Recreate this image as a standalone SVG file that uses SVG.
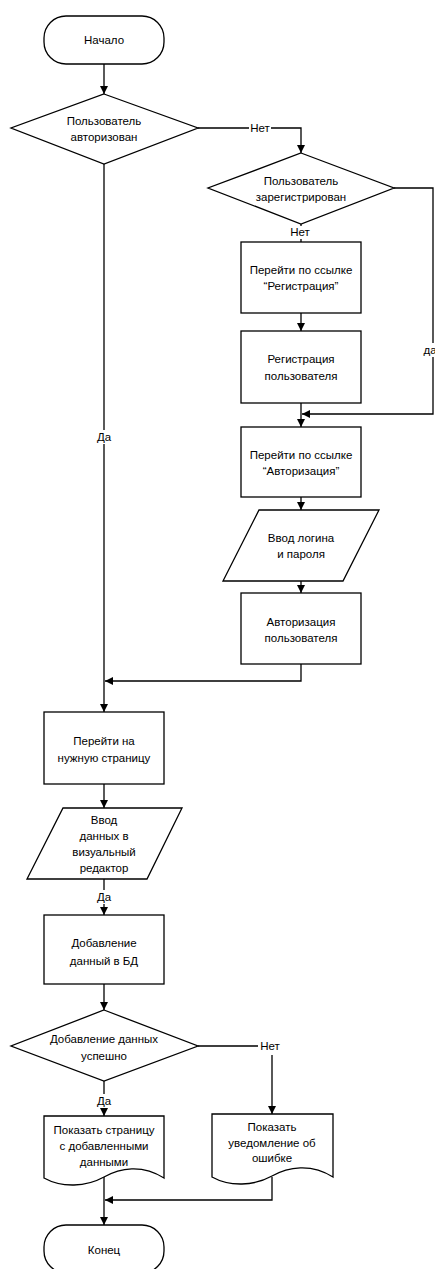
<svg xmlns="http://www.w3.org/2000/svg" width="435" height="1269" viewBox="0 0 435 1269">
  <style>
    .shape { fill: #ffffff; stroke: #000000; stroke-width: 1.3; }
    .line { fill: none; stroke: #000000; stroke-width: 1.3; }
    .txt { font-family: "Liberation Sans", Arial, sans-serif; font-size: 11.5px; fill: #000000; text-anchor: middle; dominant-baseline: central; }
    .lbl { fill: #ffffff; stroke: none; }
  </style>
  <defs>
    <marker id="arrow" viewBox="0 0 10 10" refX="10" refY="5" markerWidth="8" markerHeight="8" markerUnits="userSpaceOnUse" orient="auto">
      <path d="M0,0 L10,5 L0,10 Z" fill="#000000"/>
    </marker>
  </defs>

  <rect width="435" height="1269" fill="#ffffff"/>

  <!-- connectors -->
  <g id="connectors">
    <path class="line" d="M104,64 V94" marker-end="url(#arrow)"/>
    <path class="line" d="M198,128 H301 V153" marker-end="url(#arrow)"/>
    <path class="line" d="M394,188 H433 V414 H302" marker-end="url(#arrow)"/>
    <path class="line" d="M301,224 V242"/>
    <path class="line" d="M301,313 V331" marker-end="url(#arrow)"/>
    <path class="line" d="M301,403 V427" marker-end="url(#arrow)"/>
    <path class="line" d="M301,497 V510" marker-end="url(#arrow)"/>
    <path class="line" d="M301,581 V593" marker-end="url(#arrow)"/>
    <path class="line" d="M301,664 V681 H105" marker-end="url(#arrow)"/>
    <path class="line" d="M104,164 V712" marker-end="url(#arrow)"/>
    <path class="line" d="M104,784 V808" marker-end="url(#arrow)"/>
    <path class="line" d="M104,879 V915" marker-end="url(#arrow)"/>
    <path class="line" d="M104,984 V1010" marker-end="url(#arrow)"/>
    <path class="line" d="M198,1046 H272 V1114" marker-end="url(#arrow)"/>
    <path class="line" d="M104,1081 V1116" marker-end="url(#arrow)"/>
    <path class="line" d="M272,1177 V1200 H105" marker-end="url(#arrow)"/>
    <path class="line" d="M104,1177 V1225" marker-end="url(#arrow)"/>

    <!-- connector labels -->
    <rect class="lbl" x="249" y="121" width="22" height="14"/>
    <text class="txt" x="260" y="128">Нет</text>
    <rect class="lbl" x="289" y="226" width="22" height="13"/>
    <text class="txt" x="300" y="232">Нет</text>
    <rect class="lbl" x="424" y="343" width="12" height="14"/>
    <text class="txt" x="430" y="350">да</text>
    <rect class="lbl" x="95" y="430" width="18" height="14"/>
    <text class="txt" x="104" y="437">Да</text>
    <rect class="lbl" x="95" y="890" width="18" height="14"/>
    <text class="txt" x="104" y="897">Да</text>
    <rect class="lbl" x="258" y="1039" width="24" height="16"/>
    <text class="txt" x="270" y="1046">Нет</text>
    <rect class="lbl" x="95" y="1094" width="18" height="14"/>
    <text class="txt" x="104" y="1101">Да</text>
  </g>

  <g id="start">
    <rect class="shape" x="44" y="16" width="120" height="48" rx="22" ry="22"/>
    <text class="txt" x="104" y="40">Начало</text>
  </g>

  <g id="is-authorized">
    <polygon class="shape" points="104,94 198,128 104,164 11,128"/>
    <text class="txt" x="104" y="121">Пользователь</text>
    <text class="txt" x="104" y="137">авторизован</text>
  </g>

  <g id="is-registered">
    <polygon class="shape" points="301,153 394,188 301,224 208,188"/>
    <text class="txt" x="301" y="181">Пользователь</text>
    <text class="txt" x="301" y="197">зарегистрирован</text>
  </g>

  <g id="goto-registration">
    <rect class="shape" x="241" y="242" width="120" height="71"/>
    <text class="txt" x="301" y="270">Перейти по ссылке</text>
    <text class="txt" x="301" y="286">“Регистрация”</text>
  </g>

  <g id="register-user">
    <rect class="shape" x="241" y="331" width="120" height="72"/>
    <text class="txt" x="301" y="359">Регистрация</text>
    <text class="txt" x="301" y="376">пользователя</text>
  </g>

  <g id="goto-authorization">
    <rect class="shape" x="241" y="427" width="120" height="70"/>
    <text class="txt" x="301" y="455">Перейти по ссылке</text>
    <text class="txt" x="301" y="471">“Авторизация”</text>
  </g>

  <g id="enter-credentials">
    <polygon class="shape" points="259,510 379,510 343,581 223,581"/>
    <text class="txt" x="301" y="538">Ввод логина</text>
    <text class="txt" x="301" y="554">и пароля</text>
  </g>

  <g id="authorize-user">
    <rect class="shape" x="241" y="593" width="120" height="71"/>
    <text class="txt" x="301" y="622">Авторизация</text>
    <text class="txt" x="301" y="638">пользователя</text>
  </g>

  <g id="goto-page">
    <rect class="shape" x="44" y="712" width="120" height="72"/>
    <text class="txt" x="104" y="741">Перейти на</text>
    <text class="txt" x="104" y="758">нужную страницу</text>
  </g>

  <g id="enter-data">
    <polygon class="shape" points="63,808 182,808 147,879 27,879"/>
    <text class="txt" x="104" y="820">Ввод</text>
    <text class="txt" x="104" y="836">данных в</text>
    <text class="txt" x="104" y="852">визуальный</text>
    <text class="txt" x="104" y="868">редактор</text>
  </g>

  <g id="save-data">
    <rect class="shape" x="44" y="915" width="120" height="69"/>
    <text class="txt" x="104" y="943">Добавление</text>
    <text class="txt" x="104" y="961">данный в БД</text>
  </g>

  <g id="is-saved">
    <polygon class="shape" points="104,1010 198,1046 104,1081 11,1046"/>
    <text class="txt" x="104" y="1039">Добавление данных</text>
    <text class="txt" x="104" y="1056">успешно</text>
  </g>

  <g id="show-page">
    <path class="shape" d="M44,1116 H164 V1178 C142,1164 120,1168 104,1177 C86,1187 62,1188 44,1178 Z"/>
    <text class="txt" x="104" y="1130">Показать страницу</text>
    <text class="txt" x="104" y="1146">с добавленными</text>
    <text class="txt" x="104" y="1162">данными</text>
  </g>

  <g id="show-error">
    <path class="shape" d="M212,1114 H333 V1177 C311,1163 288,1167 272,1176 C254,1186 230,1187 212,1177 Z"/>
    <text class="txt" x="272" y="1127">Показать</text>
    <text class="txt" x="272" y="1143">уведомление об</text>
    <text class="txt" x="272" y="1158">ошибке</text>
  </g>

  <g id="end">
    <rect class="shape" x="44" y="1225" width="120" height="48" rx="22" ry="22"/>
    <text class="txt" x="104" y="1250">Конец</text>
  </g>
</svg>
